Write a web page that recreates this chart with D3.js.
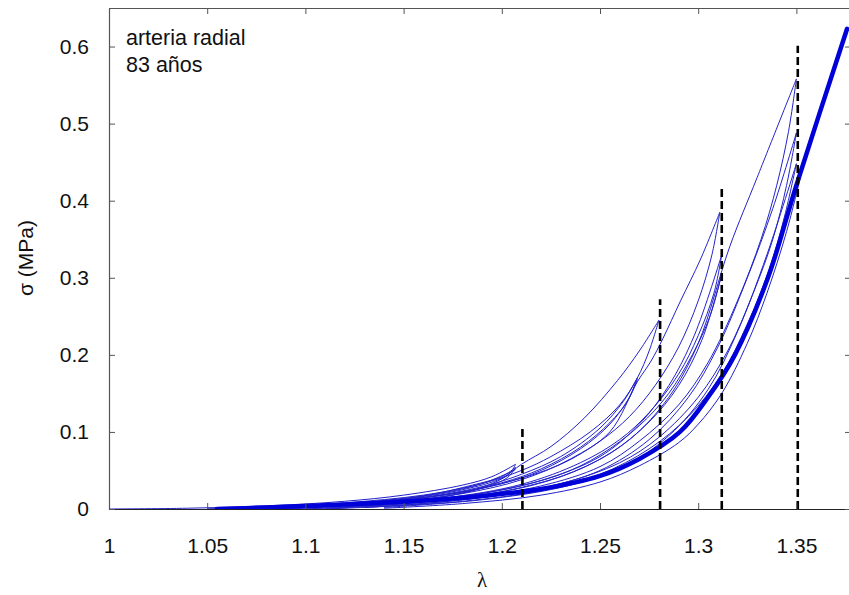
<!DOCTYPE html>
<html>
<head>
<meta charset="utf-8">
<script src="https://cdn.jsdelivr.net/npm/d3@7"></script>
<style>
  html, body { margin: 0; padding: 0; background: #fff; }
  svg { display: block; }
</style>
</head>
<body>
<svg id="chart" width="849" height="595"></svg>
<script>
// ---------------- DATA ----------------
const xTicks = [1, 1.05, 1.1, 1.15, 1.2, 1.25, 1.3, 1.35];
const xTickLabels = ["1", "1.05", "1.1", "1.15", "1.2", "1.25", "1.3", "1.35"];
const yTicks = [0, 0.1, 0.2, 0.3, 0.4, 0.5, 0.6];
const yTickLabels = ["0", "0.1", "0.2", "0.3", "0.4", "0.5", "0.6"];

// dashed markers: stretch level and top of dashed line
const dashedLambda = [1.2105, 1.2806, 1.312, 1.3507];
const dashedTop = [0.106, 0.272, 0.4175, 0.601];

// thick final loading curve [lambda, sigma MPa]
const thickCurve = [[1.055,0],[1.08,0.002],[1.1,0.004],[1.13,0.007],[1.16,0.011],[1.19,0.017],[1.22,0.026],[1.25,0.043],[1.27,0.065],[1.2907,0.1],[1.305,0.145],[1.3187,0.2],[1.3355,0.3],[1.35,0.42],[1.3758,0.623]];

// level 1 cycles (to 1.21)
const c1Load1 = [[1.0,0],[1.04,0.001],[1.08,0.004],[1.12,0.010],[1.15,0.018],[1.18,0.031],[1.195,0.042],[1.207,0.058]];
const c1Unload1 = [[1.207,0.058],[1.204,0.046],[1.195,0.033],[1.18,0.021],[1.16,0.012],[1.13,0.006],[1.09,0.002],[1.05,0]];
const c1Load2 = [[1.05,0],[1.09,0.003],[1.13,0.009],[1.16,0.017],[1.185,0.031],[1.2,0.042],[1.207,0.054]];
const c1Unload2 = [[1.207,0.054],[1.203,0.041],[1.19,0.027],[1.17,0.016],[1.14,0.008],[1.1,0.003],[1.06,0]];
const c1Load3 = [[1.06,0],[1.1,0.004],[1.14,0.011],[1.17,0.021],[1.19,0.033],[1.207,0.051]];

// level 2 cycles (to 1.28)
const c2Load1 = [[1.07,0],[1.11,0.005],[1.15,0.013],[1.18,0.025],[1.2,0.04],[1.21,0.058],[1.225,0.081],[1.242,0.118],[1.259,0.167],[1.27,0.205],[1.28,0.245]];
const c2Unload1 = [[1.28,0.245],[1.275,0.205],[1.269,0.17],[1.26,0.135],[1.245,0.1],[1.225,0.068],[1.21,0.05],[1.19,0.033],[1.16,0.018],[1.12,0.008],[1.08,0.002],[1.06,0]];
const c2Load2 = [[1.08,0],[1.12,0.006],[1.16,0.015],[1.19,0.029],[1.21,0.045],[1.23,0.068],[1.25,0.105],[1.262,0.14],[1.269,0.17]];
const c2Unload2 = [[1.269,0.17],[1.264,0.14],[1.255,0.112],[1.24,0.08],[1.22,0.052],[1.2,0.034],[1.17,0.018],[1.13,0.008],[1.09,0.002],[1.07,0]];
const c2Load3 = [[1.09,0],[1.13,0.007],[1.17,0.018],[1.2,0.033],[1.22,0.05],[1.24,0.078],[1.255,0.11],[1.265,0.145],[1.269,0.168]];

// level 3 cycles (to 1.312)
const c3Load1 = [[1.1,0.002],[1.14,0.008],[1.18,0.02],[1.21,0.038],[1.235,0.065],[1.255,0.1],[1.269,0.165],[1.276,0.192],[1.282,0.221],[1.291,0.27],[1.301,0.323],[1.311,0.385]];
const c3Unload1 = [[1.311,0.385],[1.307,0.33],[1.3,0.27],[1.29,0.21],[1.278,0.16],[1.265,0.12],[1.25,0.088],[1.23,0.058],[1.2,0.033],[1.17,0.018],[1.13,0.008],[1.09,0.002]];
const c3Load2 = [[1.1,0],[1.15,0.008],[1.19,0.02],[1.22,0.037],[1.25,0.068],[1.27,0.11],[1.285,0.16],[1.298,0.225],[1.312,0.33]];
const c3Unload2 = [[1.312,0.33],[1.308,0.28],[1.3,0.225],[1.29,0.175],[1.275,0.125],[1.26,0.09],[1.24,0.06],[1.21,0.032],[1.17,0.014],[1.12,0.004],[1.09,0]];
const c3Load3 = [[1.11,0],[1.16,0.009],[1.2,0.022],[1.23,0.042],[1.255,0.072],[1.275,0.113],[1.29,0.16],[1.302,0.22],[1.312,0.305]];
const c3Unload3 = [[1.312,0.305],[1.306,0.25],[1.297,0.2],[1.285,0.15],[1.27,0.108],[1.25,0.07],[1.23,0.045],[1.2,0.025],[1.16,0.011],[1.12,0.003]];

// level 4 cycles (to 1.35)
const c4Load1 = [[1.12,0.003],[1.17,0.012],[1.21,0.028],[1.24,0.052],[1.265,0.09],[1.285,0.145],[1.3,0.215],[1.316,0.34],[1.33,0.43],[1.35,0.558]];
const c4Unload1 = [[1.35,0.558],[1.346,0.49],[1.34,0.42],[1.332,0.35],[1.32,0.27],[1.305,0.19],[1.29,0.135],[1.27,0.088],[1.25,0.055],[1.22,0.03],[1.18,0.014],[1.14,0.005],[1.1,0]];
const c4Load2 = [[1.13,0.002],[1.18,0.012],[1.22,0.027],[1.25,0.05],[1.275,0.09],[1.295,0.145],[1.31,0.21],[1.325,0.3],[1.338,0.39],[1.35,0.488]];
const c4Unload2 = [[1.35,0.488],[1.345,0.42],[1.338,0.35],[1.328,0.28],[1.315,0.205],[1.3,0.145],[1.28,0.093],[1.26,0.06],[1.23,0.033],[1.19,0.015],[1.15,0.005],[1.11,0]];
const c4Load3 = [[1.14,0.002],[1.19,0.012],[1.23,0.028],[1.26,0.052],[1.285,0.095],[1.305,0.155],[1.32,0.23],[1.335,0.33],[1.35,0.448]];
const c4Unload3 = [[1.35,0.448],[1.344,0.38],[1.336,0.31],[1.325,0.24],[1.312,0.175],[1.295,0.12],[1.275,0.078],[1.25,0.045],[1.22,0.024],[1.18,0.01],[1.13,0.002]];
const c4Unload4 = [[1.352,0.43],[1.345,0.36],[1.335,0.28],[1.325,0.215],[1.312,0.15],[1.3,0.11],[1.29,0.086],[1.27,0.056],[1.25,0.035],[1.22,0.018],[1.18,0.007],[1.14,0.001]];

const thinCurves = [c1Load1, c1Unload1, c1Load2, c1Unload2, c1Load3,
  c2Load1, c2Unload1, c2Load2, c2Unload2, c2Load3,
  c3Load1, c3Unload1, c3Load2, c3Unload2, c3Load3, c3Unload3,
  c4Load1, c4Unload1, c4Load2, c4Unload2, c4Load3, c4Unload3, c4Unload4];

const annotation = ["arteria radial", "83 años"];
const xLabel = "λ";
const yLabel = "σ (MPa)";

// ---------------- DRAW ----------------
const svg = d3.select("#chart");
const L = 109, R = 851, T = 8, B = 509;
const x = d3.scaleLinear().domain([1, 1.3778]).range([L, R]);
const y = d3.scaleLinear().domain([0, 0.65]).range([B, T]);

const clipId = "plotclip";
svg.append("defs").append("clipPath").attr("id", clipId)
  .append("rect").attr("x", L).attr("y", T).attr("width", R - L).attr("height", B - T);

const plot = svg.append("g").attr("clip-path", `url(#${clipId})`);

const line = d3.line().x(d => x(d[0])).y(d => y(d[1])).curve(d3.curveCatmullRom.alpha(0.5));

plot.selectAll("path.thin").data(thinCurves).join("path")
  .attr("class", "thin")
  .attr("d", line)
  .attr("fill", "none")
  .attr("stroke", "#2222cc")
  .attr("stroke-width", 1);

plot.append("path").datum(thickCurve)
  .attr("d", line)
  .attr("fill", "none")
  .attr("stroke", "#0000d8")
  .attr("stroke-width", 4.5)
  .attr("stroke-linecap", "round");

// dashed lines
svg.selectAll("line.dash").data(dashedLambda).join("line")
  .attr("class", "dash")
  .attr("x1", d => x(d)).attr("x2", d => x(d))
  .attr("y1", y(0)).attr("y2", (d, i) => y(dashedTop[i]))
  .attr("stroke", "#000")
  .attr("stroke-width", 2.6)
  .attr("stroke-dasharray", "8,4");

// axes
const fontFamily = "'Liberation Sans', Arial, sans-serif";
const axisColor = "#555";

const xAxis = d3.axisBottom(x).tickValues(xTicks).tickFormat((d, i) => xTickLabels[i])
  .tickSizeInner(-6).tickSizeOuter(0).tickPadding(29);
const gx = svg.append("g").attr("transform", `translate(0,${B})`).call(xAxis);

const yAxis = d3.axisLeft(y).tickValues(yTicks).tickFormat((d, i) => yTickLabels[i])
  .tickSizeInner(-6).tickSizeOuter(0).tickPadding(20);
const gy = svg.append("g").attr("transform", `translate(${L},0)`).call(yAxis);

const xTop = d3.axisTop(x).tickValues(xTicks).tickFormat("").tickSizeInner(-6).tickSizeOuter(0);
const gxt = svg.append("g").attr("transform", `translate(0,${T})`).call(xTop);

const yRight = d3.axisRight(y).tickValues(yTicks).tickFormat("").tickSizeInner(-6).tickSizeOuter(0);
const gyr = svg.append("g").attr("transform", `translate(${R},0)`).call(yRight);

[gx, gy, gxt, gyr].forEach(g => {
  g.select(".domain").attr("stroke", axisColor).attr("stroke-width", 1.2);
  g.selectAll(".tick line").attr("stroke", axisColor).attr("stroke-width", 1);
  g.selectAll(".tick text").attr("fill", "#111").style("font-family", fontFamily).style("font-size", "21px");
});
gx.select(".domain").attr("stroke", "#222");

// annotation
svg.append("text").attr("x", 126).attr("y", 45).text(annotation[0])
  .style("font-family", fontFamily).style("font-size", "21.5px").attr("fill", "#111");
svg.append("text").attr("x", 126).attr("y", 72).text(annotation[1])
  .style("font-family", fontFamily).style("font-size", "21.5px").attr("fill", "#111");

// axis labels
svg.append("text").attr("x", (L + R) / 2 + 2).attr("y", 587).attr("text-anchor", "middle")
  .text(xLabel).style("font-family", "'Liberation Serif', 'Times New Roman', serif").style("font-size", "21px").attr("fill", "#111");
svg.append("text").attr("transform", `translate(33,258) rotate(-90)`).attr("text-anchor", "middle")
  .text(yLabel).style("font-family", fontFamily).style("font-size", "21px").attr("fill", "#111");
</script>
</body>
</html>
